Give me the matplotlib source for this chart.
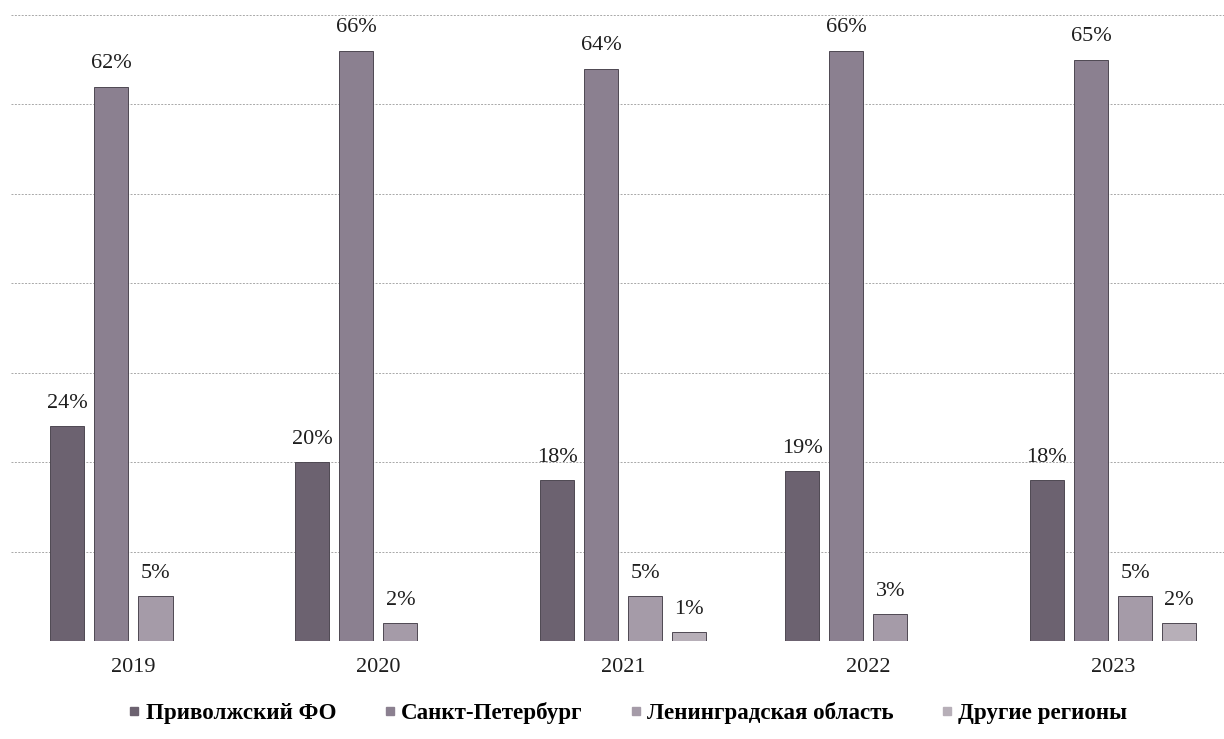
import matplotlib.pyplot as plt
import numpy as np
from matplotlib.lines import Line2D

plt.rcParams['font.family'] = ['Liberation Serif', 'DejaVu Serif']

years = ["2019", "2020", "2021", "2022", "2023"]
series = ["Приволжский ФО", "Санкт-Петербург", "Ленинградская область", "Другие регионы"]
privolzh = [24, 20, 18, 19, 18]
spb = [62, 66, 64, 66, 65]
lenobl = [5, 2, 5, 3, 5]
other = [np.nan, np.nan, 1, np.nan, 2]
colors = ["#6c6270", "#8b8090", "#a59ba8", "#b7afb8"]

fig = plt.figure(figsize=(12.24, 7.39), dpi=100)
ax = fig.add_axes([11 / 1224, 98 / 739, 1213 / 1224, 626 / 739])

x = np.arange(len(years))
step = 0.18
width = 0.139
for i, (vals, col) in enumerate(zip([privolzh, spb, lenobl, other], colors)):
    pos = x + (i - 1.5) * step
    v = np.array(vals, dtype=float)
    ax.bar(pos, v, width, color=col, edgecolor="#4e4852", linewidth=0.7, zorder=3)
    for px, pv in zip(pos, v):
        if not np.isnan(pv):
            ax.text(px, pv + 1.5, f"{int(pv)}%", ha="center", va="bottom",
                    fontsize=16, color="#1e1e1e")

ax.set_ylim(0, 70)
ax.set_xlim(-0.5, 4.453)
ax.set_yticks(np.arange(0, 71, 10))
ax.yaxis.grid(True, color="#a8a8a8", linestyle=(0, (2, 1.5)), linewidth=0.7, zorder=0)
ax.tick_params(axis="y", left=False, labelleft=False)
ax.tick_params(axis="x", bottom=False, labelsize=16, pad=9, colors="#1e1e1e")
ax.set_xticks(x)
ax.set_xticklabels(years)
for s in ax.spines.values():
    s.set_visible(False)

handles = [Line2D([], [], marker="s", linestyle="none", markersize=6,
                  markerfacecolor=c, markeredgecolor=c) for c in colors]
fig.legend(handles, series, loc="center", bbox_to_anchor=(628 / 1224, 1 - 713 / 739),
           ncol=4, frameon=False, handlelength=0.5, handletextpad=0.25, columnspacing=2.05,
           prop={"size": 16.6, "weight": "bold"})

fig.savefig("out.png", dpi=100)
